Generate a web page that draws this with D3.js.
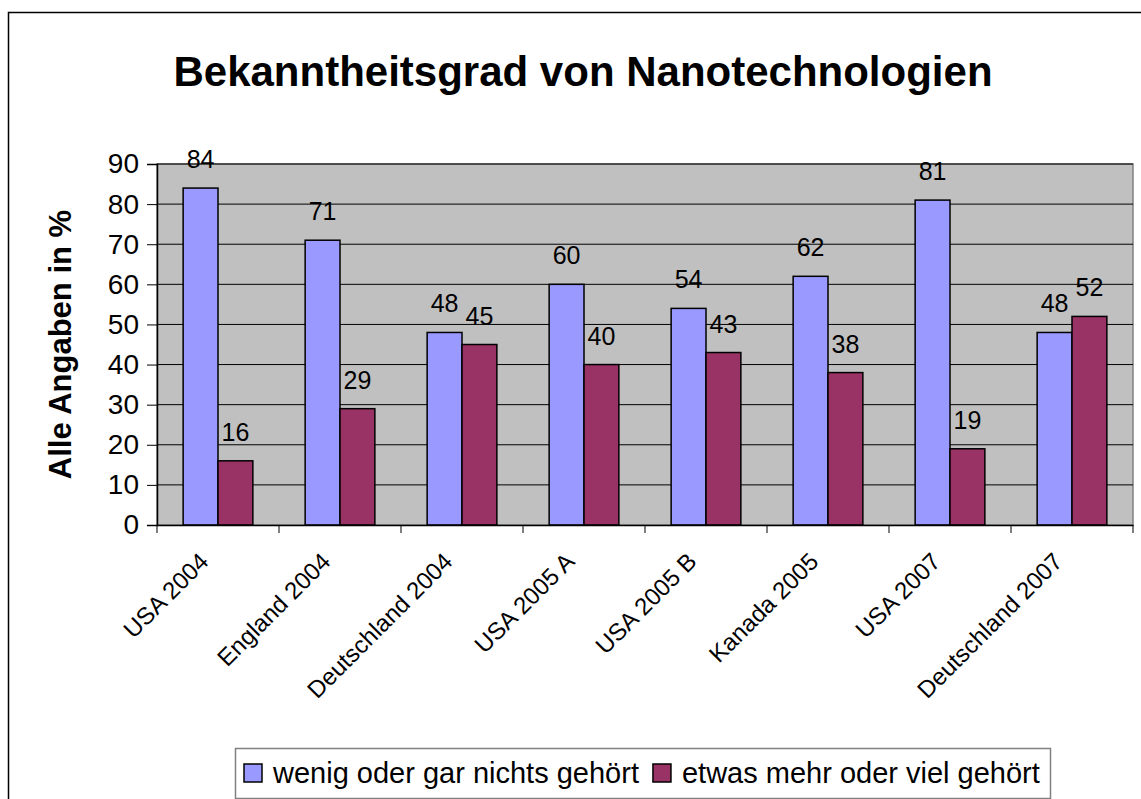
<!DOCTYPE html>
<html>
<head>
<meta charset="utf-8">
<script src="https://cdn.jsdelivr.net/npm/d3@7"></script>
<style>
  body { margin: 0; background: #fff; }
  text { font-family: "Liberation Sans", Arial, sans-serif; }
</style>
</head>
<body>
<svg></svg>
<script>
var categories = ["USA 2004", "England 2004", "Deutschland 2004", "USA 2005 A",
    "USA 2005 B", "Kanada 2005", "USA 2007", "Deutschland 2007"];
var wenigValues = [84, 71, 48, 60, 54, 62, 81, 48];
var etwasValues = [16, 29, 45, 40, 43, 38, 19, 52];
var seriesNames = ["wenig oder gar nichts gehört", "etwas mehr oder viel gehört"];
var seriesColors = ["#9999ff", "#993366"];
var yTicks = [0, 10, 20, 30, 40, 50, 60, 70, 80, 90];

var svgWidth = 1141;
var svgHeight = 799;
var plotLeft = 157, plotRight = 1133, plotTop = 164, plotBottom = 525;

var svg = d3.select("svg")
    .attr("width", svgWidth)
    .attr("height", svgHeight);

// outer chart border (runs off the right and bottom)
svg.append("rect")
    .attr("x", 8.5).attr("y", 12.5)
    .attr("width", 1200).attr("height", 900)
    .attr("fill", "none").attr("stroke", "#000").attr("stroke-width", 1.5);

svg.append("text")
    .attr("x", 583).attr("y", 86)
    .attr("text-anchor", "middle")
    .attr("font-size", 42).attr("font-weight", "bold")
    .text("Bekanntheitsgrad von Nanotechnologien");

var xScale = d3.scaleBand()
    .domain(categories)
    .range([plotLeft, plotRight]);

var yScale = d3.scaleLinear()
    .domain([0, 90])
    .range([plotBottom, plotTop]);

// plot background
svg.append("rect")
    .attr("x", plotLeft).attr("y", plotTop)
    .attr("width", plotRight - plotLeft).attr("height", plotBottom - plotTop)
    .attr("fill", "#c0c0c0").attr("stroke", "#808080").attr("stroke-width", 1.5);

// gridlines
svg.append("g").selectAll("line")
    .data(yTicks.slice(1))
    .enter().append("line")
    .attr("x1", plotLeft).attr("x2", plotRight)
    .attr("y1", function(d) { return yScale(d); })
    .attr("y2", function(d) { return yScale(d); })
    .attr("stroke", "#000").attr("stroke-width", 1);

// y axis
var yAxis = d3.axisLeft(yScale).tickValues(yTicks).tickSize(10).tickPadding(8);
var yG = svg.append("g")
    .attr("transform", "translate(" + plotLeft + ",0)")
    .call(yAxis);
yG.select(".domain").attr("stroke", "#000").attr("stroke-width", 1.5);
yG.selectAll(".tick line").attr("stroke", "#000");
yG.selectAll(".tick text")
    .attr("font-size", 28).attr("fill", "#000")
    .attr("font-family", "Liberation Sans, Arial, sans-serif");

svg.append("text")
    .attr("transform", "translate(71," + ((plotTop + plotBottom) / 2) + ") rotate(-90)")
    .attr("text-anchor", "middle")
    .attr("font-size", 31).attr("font-weight", "bold")
    .text("Alle Angaben in %");

// bars
var groupW = xScale.bandwidth();
var barW = groupW / 3.5;
var gapOffset = barW * 0.75;
var seriesData = [wenigValues, etwasValues];

seriesData.forEach(function(values, s) {
    svg.append("g").selectAll("rect")
        .data(values)
        .enter().append("rect")
        .attr("x", function(d, i) { return xScale(categories[i]) + gapOffset + s * barW; })
        .attr("y", function(d) { return yScale(d); })
        .attr("width", barW)
        .attr("height", function(d) { return yScale(0) - yScale(d); })
        .attr("fill", seriesColors[s])
        .attr("stroke", "#000").attr("stroke-width", 1.5);

    svg.append("g").selectAll("text")
        .data(values)
        .enter().append("text")
        .attr("x", function(d, i) { return xScale(categories[i]) + gapOffset + s * barW + barW / 2; })
        .attr("y", function(d) { return yScale(d) - 20; })
        .attr("text-anchor", "middle")
        .attr("font-size", 25)
        .text(function(d) { return d; });
});

// x axis
var xAxis = d3.axisBottom(xScale).tickSize(0).tickFormat("");
var xG = svg.append("g")
    .attr("transform", "translate(0," + plotBottom + ")")
    .call(xAxis);
xG.select(".domain").attr("stroke", "#000").attr("stroke-width", 1.5);

svg.append("g").selectAll("line")
    .data(categories.concat(["end"]))
    .enter().append("line")
    .attr("x1", function(d, i) { return plotLeft + i * groupW; })
    .attr("x2", function(d, i) { return plotLeft + i * groupW; })
    .attr("y1", plotBottom).attr("y2", plotBottom + 8)
    .attr("stroke", "#000").attr("stroke-width", 1);

svg.append("g").selectAll("text")
    .data(categories)
    .enter().append("text")
    .attr("transform", function(d) {
        var x = xScale(d) + groupW / 2 - 8;
        return "translate(" + x + "," + (plotBottom + 38) + ") rotate(-45)";
    })
    .attr("text-anchor", "end")
    .attr("font-size", 24)
    .text(function(d) { return d; });

// legend
var legend = svg.append("g");
legend.append("rect")
    .attr("x", 235.5).attr("y", 748.5)
    .attr("width", 815).attr("height", 50)
    .attr("fill", "#fff").attr("stroke", "#808080").attr("stroke-width", 1.5);

var legendX = [244, 0];
var t1 = legend.append("text")
    .attr("x", 273).attr("y", 783)
    .attr("font-size", 29)
    .text(seriesNames[0]);
var t1End = 273 + t1.node().getComputedTextLength();
legendX[1] = t1End + 14;

seriesNames.forEach(function(name, s) {
    legend.append("rect")
        .attr("x", legendX[s]).attr("y", 764)
        .attr("width", 18).attr("height", 18)
        .attr("fill", seriesColors[s])
        .attr("stroke", "#000").attr("stroke-width", 1.5);
});
legend.append("text")
    .attr("x", legendX[1] + 29).attr("y", 783)
    .attr("font-size", 29)
    .text(seriesNames[1]);
</script>
</body>
</html>
